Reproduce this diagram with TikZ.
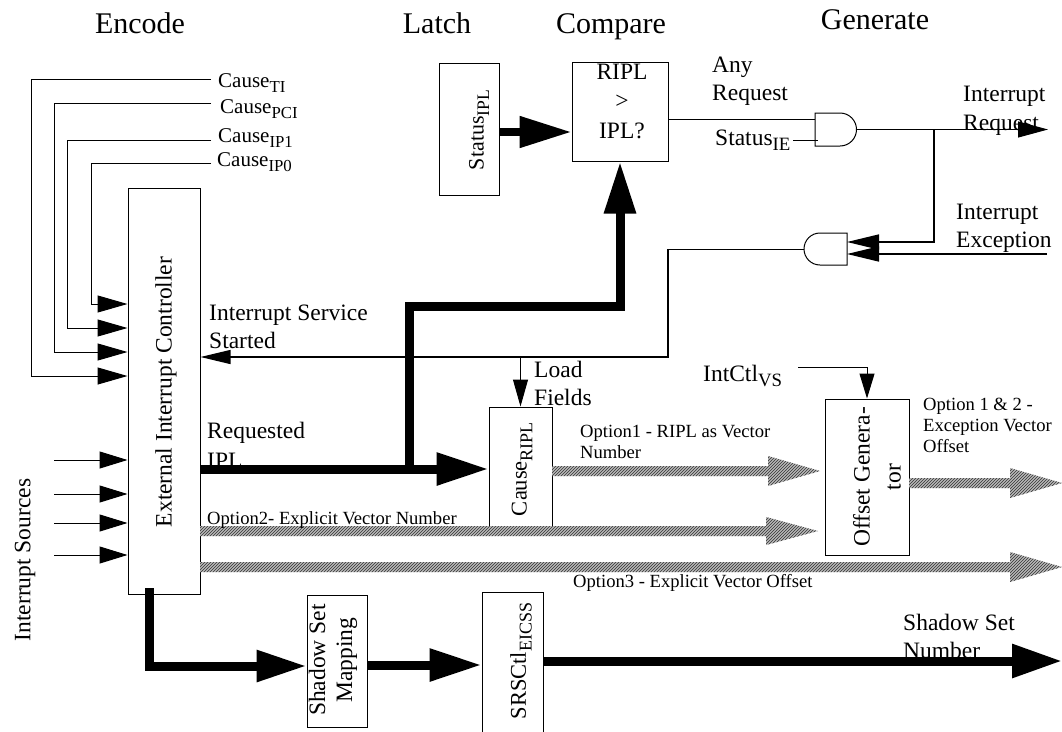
\documentclass[tikz,border=0pt]{standalone}
\usepackage{fontspec}
\setmainfont{Liberation Serif}
\usepackage{graphicx}
\usetikzlibrary{arrows.meta,patterns}
\newcommand\sbx[1]{\raisebox{-0.25em}{\scalebox{0.8}{#1}}}
\newcommand\twol[2]{\begin{tabular}[t]{@{}l@{}}#1\\#2\end{tabular}}
\newcommand\threel[3]{\begin{tabular}[t]{@{}l@{}}#1\\#2\\#3\end{tabular}}
\newcommand\hatcharrow[4]{\path[hatchfill] (#1,#3-5) -- ({#2-52},#3-5) -- ({#2-52},#3-#4) -- (#2,#3) -- ({#2-52},#3+#4) -- ({#2-52},#3+5) -- (#1,#3+5) -- cycle;}
\tikzset{
 box/.style={draw, line width=1pt, inner sep=0pt},
 lbl/.style={inner sep=0pt, anchor=base west},
 wire/.style={line width=1pt},
 tipA/.style={-{Triangle[length=30pt,width=17pt]}},
 fat/.style={line width=9pt, line join=miter, -{Triangle[length=52pt,width=31pt]}},
 hatchfill/.style={preaction={fill=gray!55}, pattern=north east lines, pattern color=black!80},
 fbig/.style={font=\fontsize{23.5}{28}\selectfont},
 fsmall/.style={font=\fontsize{18.6}{21}\selectfont},
 fmid/.style={font=\fontsize{21}{24}\selectfont},
 ttl/.style={font=\fontsize{30}{32}\selectfont, anchor=base, inner sep=0pt},
}
\begin{document}
\begin{tikzpicture}[x=1pt,y=-1pt,fbig]
\fill[white] (0,0) rectangle (1062,731);
\useasboundingbox (0,0) rectangle (1062,731);

% titles
\node[ttl] (tenc) at (140,33) {Encode};
\node[ttl] (tlat) at (437,33) {Latch};
\node[ttl] (tcmp) at (611,33) {Compare};
\node[ttl] (tgen) at (875,29) {Generate};

% boxes
\node[box, minimum width=72pt, minimum height=406pt] (eic) at (164,391) {};
\node[rotate=90, inner sep=0pt] (eict) at (166,392) {External Interrupt Controller};
\node[box, minimum width=60pt, minimum height=132pt] (stipl) at (469,129) {};
\node[rotate=90, inner sep=0pt, font=\fontsize{22}{24}\selectfont] (stiplt) at (479,130) {Status\sbx{IPL}};
\node[box, minimum width=96pt, minimum height=99pt] (cmp) at (620,111.5) {};
\node[align=center, inner sep=0pt, font=\fontsize{23.5}{29.5}\selectfont] (cmpt) at (622,101) {RIPL\\>\\IPL?};
\node[box, minimum width=63pt, minimum height=128pt] (crip) at (520.5,471) {};
\node[rotate=90, inner sep=0pt, font=\fontsize{22.5}{24}\selectfont] (cript) at (522,469) {Cause\sbx{RIPL}};
\node[box, minimum width=84pt, minimum height=156pt] (offg) at (867,477) {};
\node[rotate=90, align=center, inner sep=0pt, font=\fontsize{23.5}{31}\selectfont] (offgt) at (877,477) {Offset Genera-\\tor};
\node[box, minimum width=60pt, minimum height=132pt] (ssm) at (337,661) {};
\node[rotate=90, align=center, inner sep=0pt, font=\fontsize{23.5}{27}\selectfont] (ssmt) at (333,660) {Shadow Set\\Mapping};
\node[box, minimum width=61pt, minimum height=145pt] (srs) at (512.5,664.5) {};
\node[rotate=90, inner sep=0pt, font=\fontsize{22.5}{24}\selectfont] (srst) at (521,661) {SRSCtl\sbx{EICSS}};

% AND gates
\draw[line width=1pt] (815,113) -- (840,113) arc[start angle=-90, end angle=90, radius=16.5] -- (815,146) -- cycle;
\coordinate (g1out) at (856.5,129.5);
\coordinate (g1in) at (815,119);
\draw[line width=1pt] (847,233) -- (820,233) arc[start angle=-90, end angle=-270, radius=16] -- (847,265) -- cycle;
\coordinate (g2out) at (804,249.5);
\coordinate (g2inA) at (847,242);
\coordinate (g2inB) at (847,254);

% cause inputs
\node[lbl, fmid] (cti) at (218,87) {Cause\sbx{TI}};
\node[lbl, fmid] (cpci) at (220,113) {Cause\sbx{PCI}};
\node[lbl, fmid] (cip1) at (218,142) {Cause\sbx{IP1}};
\node[lbl, fmid] (cip0) at (217,166) {Cause\sbx{IP0}};
\draw[wire, tipA] (211,79) -- (31,79) |- (eic.west |- 0,376);
\draw[wire, tipA] (211,103) -- (54,103) |- (eic.west |- 0,352);
\draw[wire, tipA] (211,140) -- (67,140) |- (eic.west |- 0,328);
\draw[wire, tipA] (211,163) -- (91,163) |- (eic.west |- 0,304);

% interrupt sources
\node[rotate=90, inner sep=0pt] (isrc) at (25,560) {Interrupt Sources};
\foreach \yy in {460,494,523,555}
  \draw[wire, -{Triangle[length=28pt,width=17pt]}] (54,\yy) -- (eic.west |- 0,\yy);

% thick paths
\draw[fat, -{Triangle[length=52pt,width=30pt]}, line width=8pt] (stipl.east |- 0,132) -- (cmp.west |- 0,132);
\draw[fat] (eic.east |- 0,469) -- (crip.west |- 0,469);
\draw[fat, -{Triangle[length=52pt,width=30pt]}] (409,469) -- (409,306) -| (cmp.south);
\draw[fat, -{Triangle[length=50pt,width=30pt]}] (149,588) -- (149,666) -- (ssm.west |- 0,666);
\draw[fat] (ssm.east |- 0,665) -- (srs.west |- 0,665);
\coordinate (ssout) at (1062,661);
\draw[fat, -{Triangle[length=50pt,width=32pt]}] (srs.east |- 0,661) -- (ssout);

% compare -> gate
\draw[wire] (cmp.east |- g1in) -- (g1in);
\node[lbl] (anyreq) at (712,72) {\twol{Any}{Request}};
\node[lbl] (stie) at (715,145) {Status\sbx{IE}};
\draw[wire] (793,140) -- (818,140);

% generate outputs
\coordinate (irq) at (1048,129.5);
\draw[wire, -{Triangle[length=30pt,width=16pt]}] (g1out) -- (irq);
\node[lbl, font=\fontsize{23.5}{29}\selectfont] (irqt) at (963,101) {\twol{Interrupt}{Request}};
\draw[line width=1.6pt, -{Triangle[length=32pt,width=15pt]}] (934,129.5) |- (g2inA);
\coordinate (iexc) at (1047,254);
\draw[line width=1.6pt, -{Triangle[length=32pt,width=15pt]}] (iexc) -- (g2inB);
\node[lbl] (iexct) at (956,219) {\twol{Interrupt}{Exception}};

% interrupt service started
\draw[line width=1.2pt, -{Triangle[length=30pt,width=14pt]}] (g2out) -- (668,249.5) |- (eic.east |- 0,357);
\node[lbl] (isst) at (209,320) {\twol{Interrupt Service}{Started}};
\draw[wire, -{Triangle[length=27pt,width=15pt]}] (crip.north |- 0,357) -- (crip.north);
\node[lbl] (ldf) at (534,377) {\twol{Load}{Fields}};
\node[lbl, font=\fontsize{23.5}{30}\selectfont] (rqipl) at (207,438) {\twol{Requested}{IPL}};

% vector options
\hatcharrow{552}{820}{471}{15}
\node[lbl, fsmall] (op1) at (580,437) {\twol{Option1 - RIPL as Vector}{Number}};
\hatcharrow{200}{818}{531}{14}
\node[lbl, fsmall] (op2) at (207,524) {Option2- Explicit Vector Number};
\hatcharrow{200}{1062}{567}{15}
\node[lbl, fsmall] (op3) at (573,587) {Option3 - Explicit Vector Offset};
\hatcharrow{909}{1062}{483}{15}
\node[lbl, fsmall] (op12) at (923,410) {\threel{Option 1 \& 2 -}{Exception Vector}{Offset}};

% IntCtl VS
\node[lbl] (icvs) at (703,381) {IntCtl\sbx{VS}};
\draw[wire, -{Triangle[length=25pt,width=15pt]}] (798,367) -| (offg.north);

% shadow set number
\node[lbl] (ssn) at (903,630) {\twol{Shadow Set}{Number}};
\end{tikzpicture}
\end{document}
